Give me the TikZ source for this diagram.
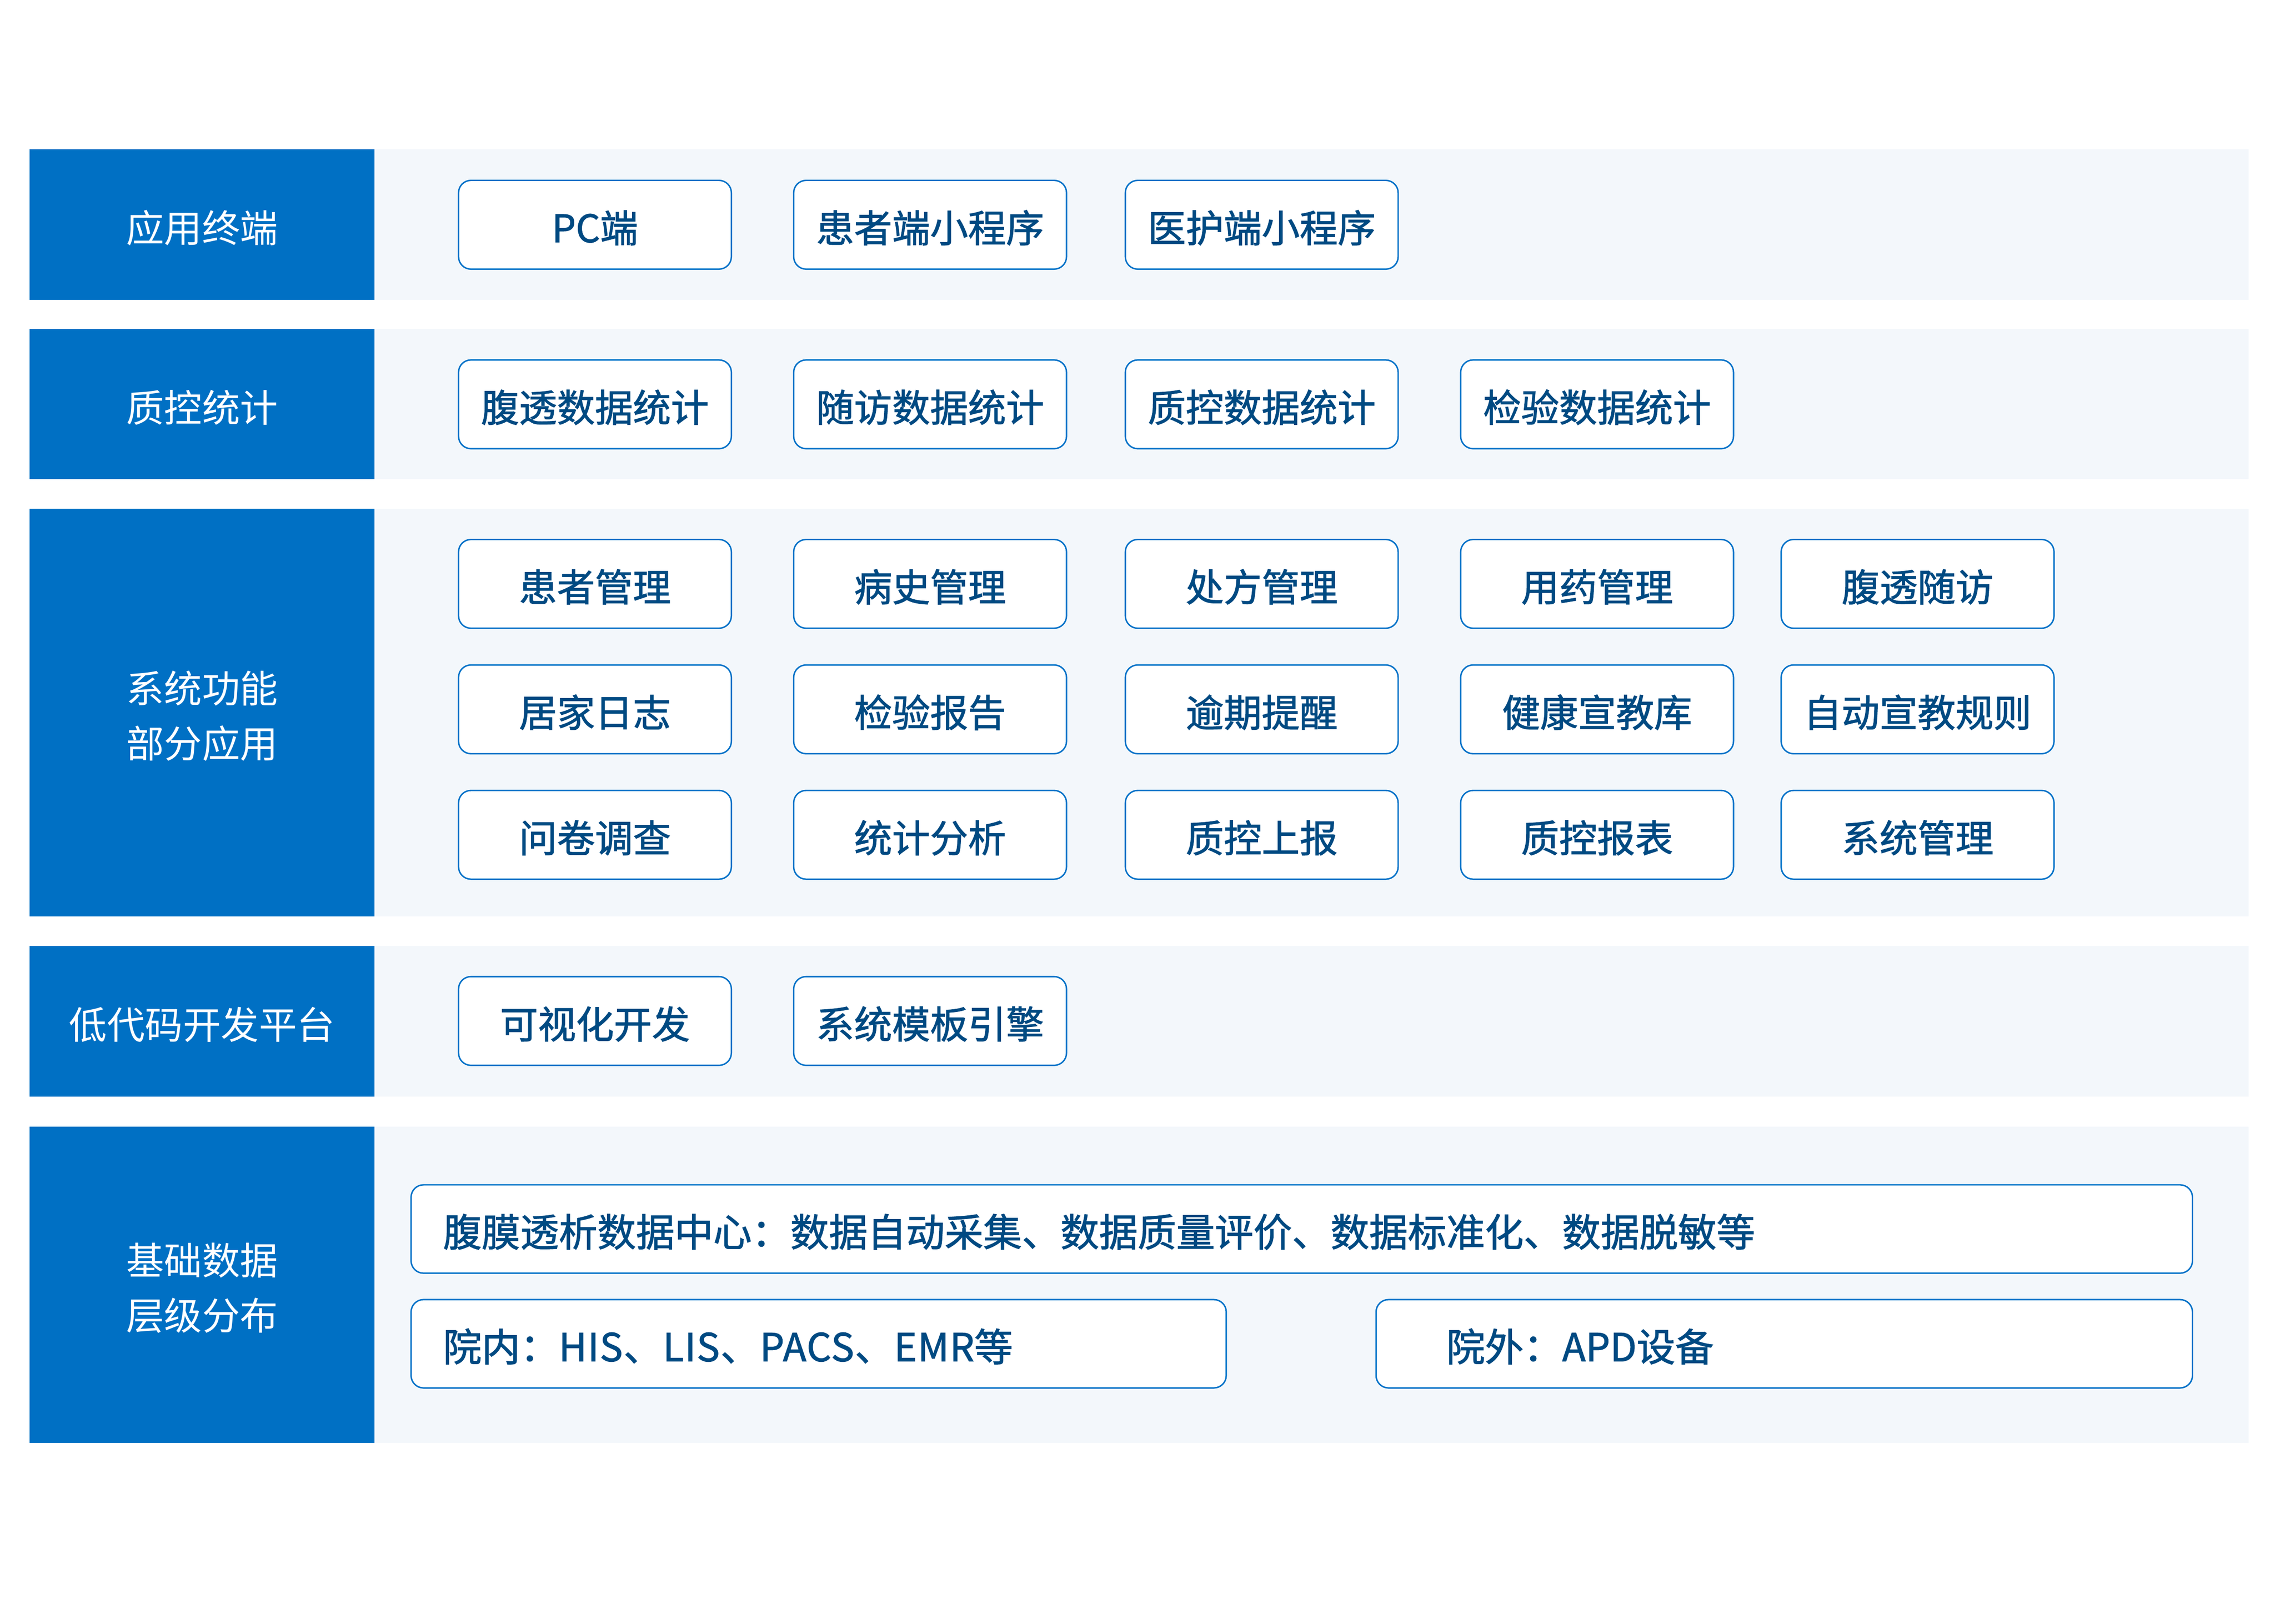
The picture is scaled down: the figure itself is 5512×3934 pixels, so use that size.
\documentclass[tikz,border=0pt]{standalone}
\usepackage{fontspec}
\setmainfont{Noto Sans CJK SC}
\newfontfamily\boxfont[FakeBold=1.5]{Noto Sans CJK SC}
\definecolor{bandblue}{RGB}{0,112,196}
\definecolor{lightbg}{RGB}{243,247,251}
\definecolor{boxline}{RGB}{0,114,200}
\definecolor{boxtext}{RGB}{0,74,130}
\begin{document}
\begin{tikzpicture}[x=1pt,y=-1pt,
  labeltext/.style={text=white, inner sep=0pt, align=center, yshift=-8pt,
    font=\fontsize{92pt}{134pt}\selectfont},
  itembox/.style={draw=boxline, line width=3.5pt, fill=white, rounded corners=30pt,
    minimum width=661pt, minimum height=215pt, inner sep=0pt, text=boxtext,
    text height=88pt, text depth=3.4pt,
    font=\boxfont\fontsize{92pt}{134pt}\selectfont},
  widebox/.style={draw=boxline, line width=3.5pt, fill=white, rounded corners=30pt,
    minimum height=214pt, inner sep=0pt},
  widetext/.style={anchor=west, inner sep=0pt, text=boxtext,
    text height=88pt, text depth=3.4pt,
    font=\boxfont\fontsize{93.5pt}{134pt}\selectfont}
]
\useasboundingbox (0,0) rectangle (5512,3934);
\fill[white] (0,0) rectangle (5512,3934);

% bands: blue label cell + light background
\fill[bandblue] (72,362) rectangle (907,727);
\fill[lightbg] (907,362) rectangle (5448,727);
\fill[bandblue] (72,797) rectangle (907,1161);
\fill[lightbg] (907,797) rectangle (5448,1161);
\fill[bandblue] (72,1233) rectangle (907,2220);
\fill[lightbg] (907,1233) rectangle (5448,2220);
\fill[bandblue] (72,2292) rectangle (907,2657);
\fill[lightbg] (907,2292) rectangle (5448,2657);
\fill[bandblue] (72,2729) rectangle (907,3496);
\fill[lightbg] (907,2729) rectangle (5448,3496);

% band labels
\node[labeltext] (L1) at (489.5,544.5) {应用终端};
\node[labeltext] (L2) at (489.5,979) {质控统计};
\node[labeltext] (L3) at (489.5,1726.5) {系统功能\\部分应用};
\node[labeltext] (L4) at (489.5,2474.5) {低代码开发平台};
\node[labeltext] (L5) at (489.5,3112.5) {基础数据\\层级分布};

% band 1
\node[itembox] (a1) at (1441.5,544.5) {PC端};
\node[itembox] (a2) at (2253.5,544.5) {患者端小程序};
\node[itembox] (a3) at (3057,544.5) {医护端小程序};

% band 2
\node[itembox] (b1) at (1441.5,979.5) {腹透数据统计};
\node[itembox] (b2) at (2253.5,979.5) {随访数据统计};
\node[itembox] (b3) at (3057,979.5) {质控数据统计};
\node[itembox] (b4) at (3869.5,979.5) {检验数据统计};

% band 3
\node[itembox] (c11) at (1441.5,1414.5) {患者管理};
\node[itembox] (c12) at (2253.5,1414.5) {病史管理};
\node[itembox] (c13) at (3057,1414.5) {处方管理};
\node[itembox] (c14) at (3869.5,1414.5) {用药管理};
\node[itembox] (c15) at (4646,1414.5) {腹透随访};
\node[itembox] (c21) at (1441.5,1718.5) {居家日志};
\node[itembox] (c22) at (2253.5,1718.5) {检验报告};
\node[itembox] (c23) at (3057,1718.5) {逾期提醒};
\node[itembox] (c24) at (3869.5,1718.5) {健康宣教库};
\node[itembox] (c25) at (4646,1718.5) {自动宣教规则};
\node[itembox] (c31) at (1441.5,2022.5) {问卷调查};
\node[itembox] (c32) at (2253.5,2022.5) {统计分析};
\node[itembox] (c33) at (3057,2022.5) {质控上报};
\node[itembox] (c34) at (3869.5,2022.5) {质控报表};
\node[itembox] (c35) at (4646,2022.5) {系统管理};

% band 4
\node[itembox] (d1) at (1441.5,2473.5) {可视化开发};
\node[itembox] (d2) at (2253.5,2473.5) {系统模板引擎};

% band 5
\node[widebox, minimum width=4316pt] (e1) at (3154,2977.5) {};
\node[widetext] (e1t) at ([xshift=79pt]e1.west) {腹膜透析数据中心：数据自动采集、数据质量评价、数据标准化、数据脱敏等};
\node[widebox, minimum width=1975pt] (e2) at (1983.5,3255.5) {};
\node[widetext] (e2t) at ([xshift=79pt]e2.west) {院内：{\addfontfeature{LetterSpace=2}HIS、LIS、PACS、EMR}等};
\node[widebox, minimum width=1978pt] (e3) at (4323,3255.5) {};
\node[widetext] (e3t) at ([xshift=172pt]e3.west) {院外：APD设备};
\end{tikzpicture}
\end{document}
